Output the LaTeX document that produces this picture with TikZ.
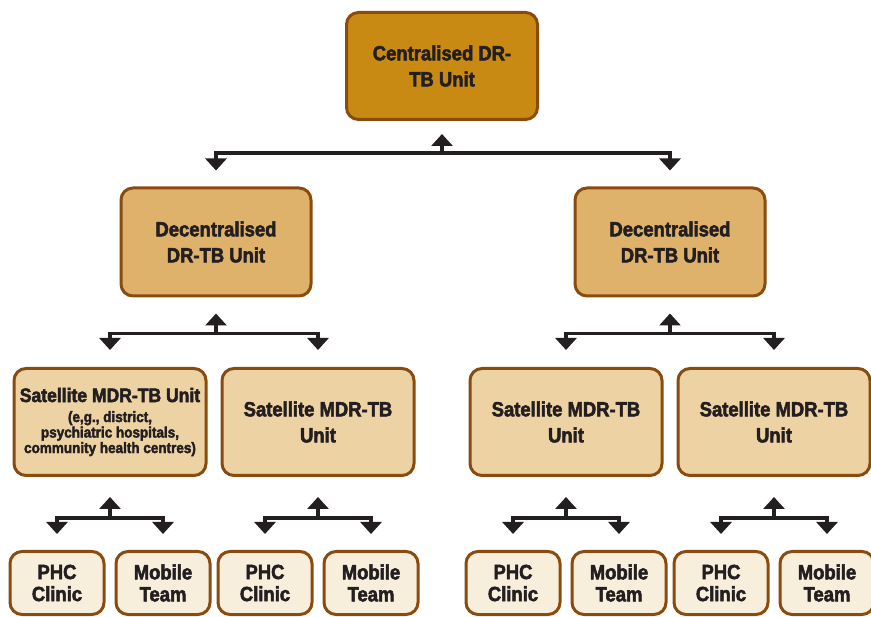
\documentclass[tikz,border=0pt]{standalone}
\usepackage{fontspec}
\usepackage{xcolor}
\usetikzlibrary{arrows.meta,positioning,calc}

\newfontfamily\unitfont[FakeStretch=0.9,FakeBold=2.5]{Liberation Sans Bold}

\definecolor{unitedge}{HTML}{8A4B0F}
\definecolor{unittext}{HTML}{231F20}
\definecolor{centralfill}{HTML}{C98A14}
\definecolor{decentfill}{HTML}{DEB26A}
\definecolor{satfill}{HTML}{EDD2A4}
\definecolor{leaffill}{HTML}{F8EEDC}

\begin{document}
\begin{tikzpicture}[x=1pt, y=1pt, on grid, align=center, text=unittext,
    font=\unitfont\fontsize{20.5}{26}\selectfont]

    \tikzstyle{unit}=[draw=unitedge, line width=3pt, rounded corners=12pt, inner sep=2pt]
    \tikzstyle{central}=[unit, fill=centralfill, minimum width=191pt, minimum height=107pt]
    \tikzstyle{decent}=[unit, fill=decentfill, minimum width=190pt, minimum height=108pt]
    \tikzstyle{satel}=[unit, fill=satfill, minimum width=192pt, minimum height=107pt]
    \tikzstyle{leaf}=[unit, fill=leaffill, minimum width=94pt, minimum height=63pt,
        font=\unitfont\fontsize{20.5}{22}\selectfont]
    \tikzstyle{link}=[draw=unittext, line width=3.5pt, -{Triangle[width=21pt, length=12pt]}]

    \useasboundingbox (0,0) rectangle (871,-617);

    % units
    \node[central] (cen) at (442,-66)                   {Centralised DR-\\TB Unit};
    \node[decent] (decL) [below left=176pt and 226pt of cen]  {Decentralised\\DR-TB Unit};
    \node[decent] (decR) [below right=176pt and 228pt of cen] {Decentralised\\DR-TB Unit};
    \node[satel] (satA) [below left=180pt and 106pt of decL]  {{\fontsize{19.5}{26}\selectfont Satellite MDR-TB Unit}\\[-6pt]
        {\fontsize{15}{15.5}\selectfont (e,g., district,}\\[-10.5pt]
        {\fontsize{15}{15.5}\selectfont psychiatric hospitals,}\\[-10.5pt]
        {\fontsize{15}{15.5}\selectfont community health centres)}};
    \node[satel] (satB) [below right=180pt and 102pt of decL] {Satellite MDR-TB\\Unit};
    \node[satel] (satC) [below left=180pt and 104pt of decR]  {Satellite MDR-TB\\Unit};
    \node[satel] (satD) [below right=180pt and 104pt of decR] {Satellite MDR-TB\\Unit};

    \node[leaf] (phcA) [below left=161pt and 53pt of satA]  {PHC\\Clinic};
    \node[leaf] (mobA) [below right=161pt and 53pt of satA] {Mobile\\Team};
    \node[leaf] (phcB) [below left=161pt and 53pt of satB]  {PHC\\Clinic};
    \node[leaf] (mobB) [below right=161pt and 53pt of satB] {Mobile\\Team};
    \node[leaf] (phcC) [below left=161pt and 53pt of satC]  {PHC\\Clinic};
    \node[leaf] (mobC) [below right=161pt and 53pt of satC] {Mobile\\Team};
    \node[leaf] (phcD) [below left=161pt and 53pt of satD]  {PHC\\Clinic};
    \node[leaf] (mobD) [below right=161pt and 53pt of satD] {Mobile\\Team};

    % junctions
    \coordinate[below=32pt of cen.south] (jc);
    \coordinate[below=36pt of decL.south] (jL);
    \coordinate[below=36pt of decR.south] (jR);
    \coordinate[below=41pt of satA.south] (jA);
    \coordinate[below=41pt of satB.south] (jB);
    \coordinate[below=41pt of satC.south] (jC);
    \coordinate[below=41pt of satD.south] (jD);

    % links
    \draw[link, shorten >=13pt] (jc) -- (cen.south);
    \draw[link, shorten >=16pt] (jc) -| (decL.north);
    \draw[link, shorten >=16pt] (jc) -| (decR.north);

    \draw[link, shorten >=16pt] (jL) -- (decL.south);
    \draw[link, shorten >=17pt] (jL) -| (satA.north);
    \draw[link, shorten >=17pt] (jL) -| (satB.north);
    \draw[link, shorten >=16pt] (jR) -- (decR.south);
    \draw[link, shorten >=17pt] (jR) -| (satC.north);
    \draw[link, shorten >=17pt] (jR) -| (satD.north);

    \draw[link, shorten >=20pt] (jA) -- (satA.south);
    \draw[link, shorten >=16pt] (jA) -| (phcA.north);
    \draw[link, shorten >=16pt] (jA) -| (mobA.north);
    \draw[link, shorten >=20pt] (jB) -- (satB.south);
    \draw[link, shorten >=16pt] (jB) -| (phcB.north);
    \draw[link, shorten >=16pt] (jB) -| (mobB.north);
    \draw[link, shorten >=20pt] (jC) -- (satC.south);
    \draw[link, shorten >=16pt] (jC) -| (phcC.north);
    \draw[link, shorten >=16pt] (jC) -| (mobC.north);
    \draw[link, shorten >=20pt] (jD) -- (satD.south);
    \draw[link, shorten >=16pt] (jD) -| (phcD.north);
    \draw[link, shorten >=16pt] (jD) -| (mobD.north);
\end{tikzpicture}
\end{document}
